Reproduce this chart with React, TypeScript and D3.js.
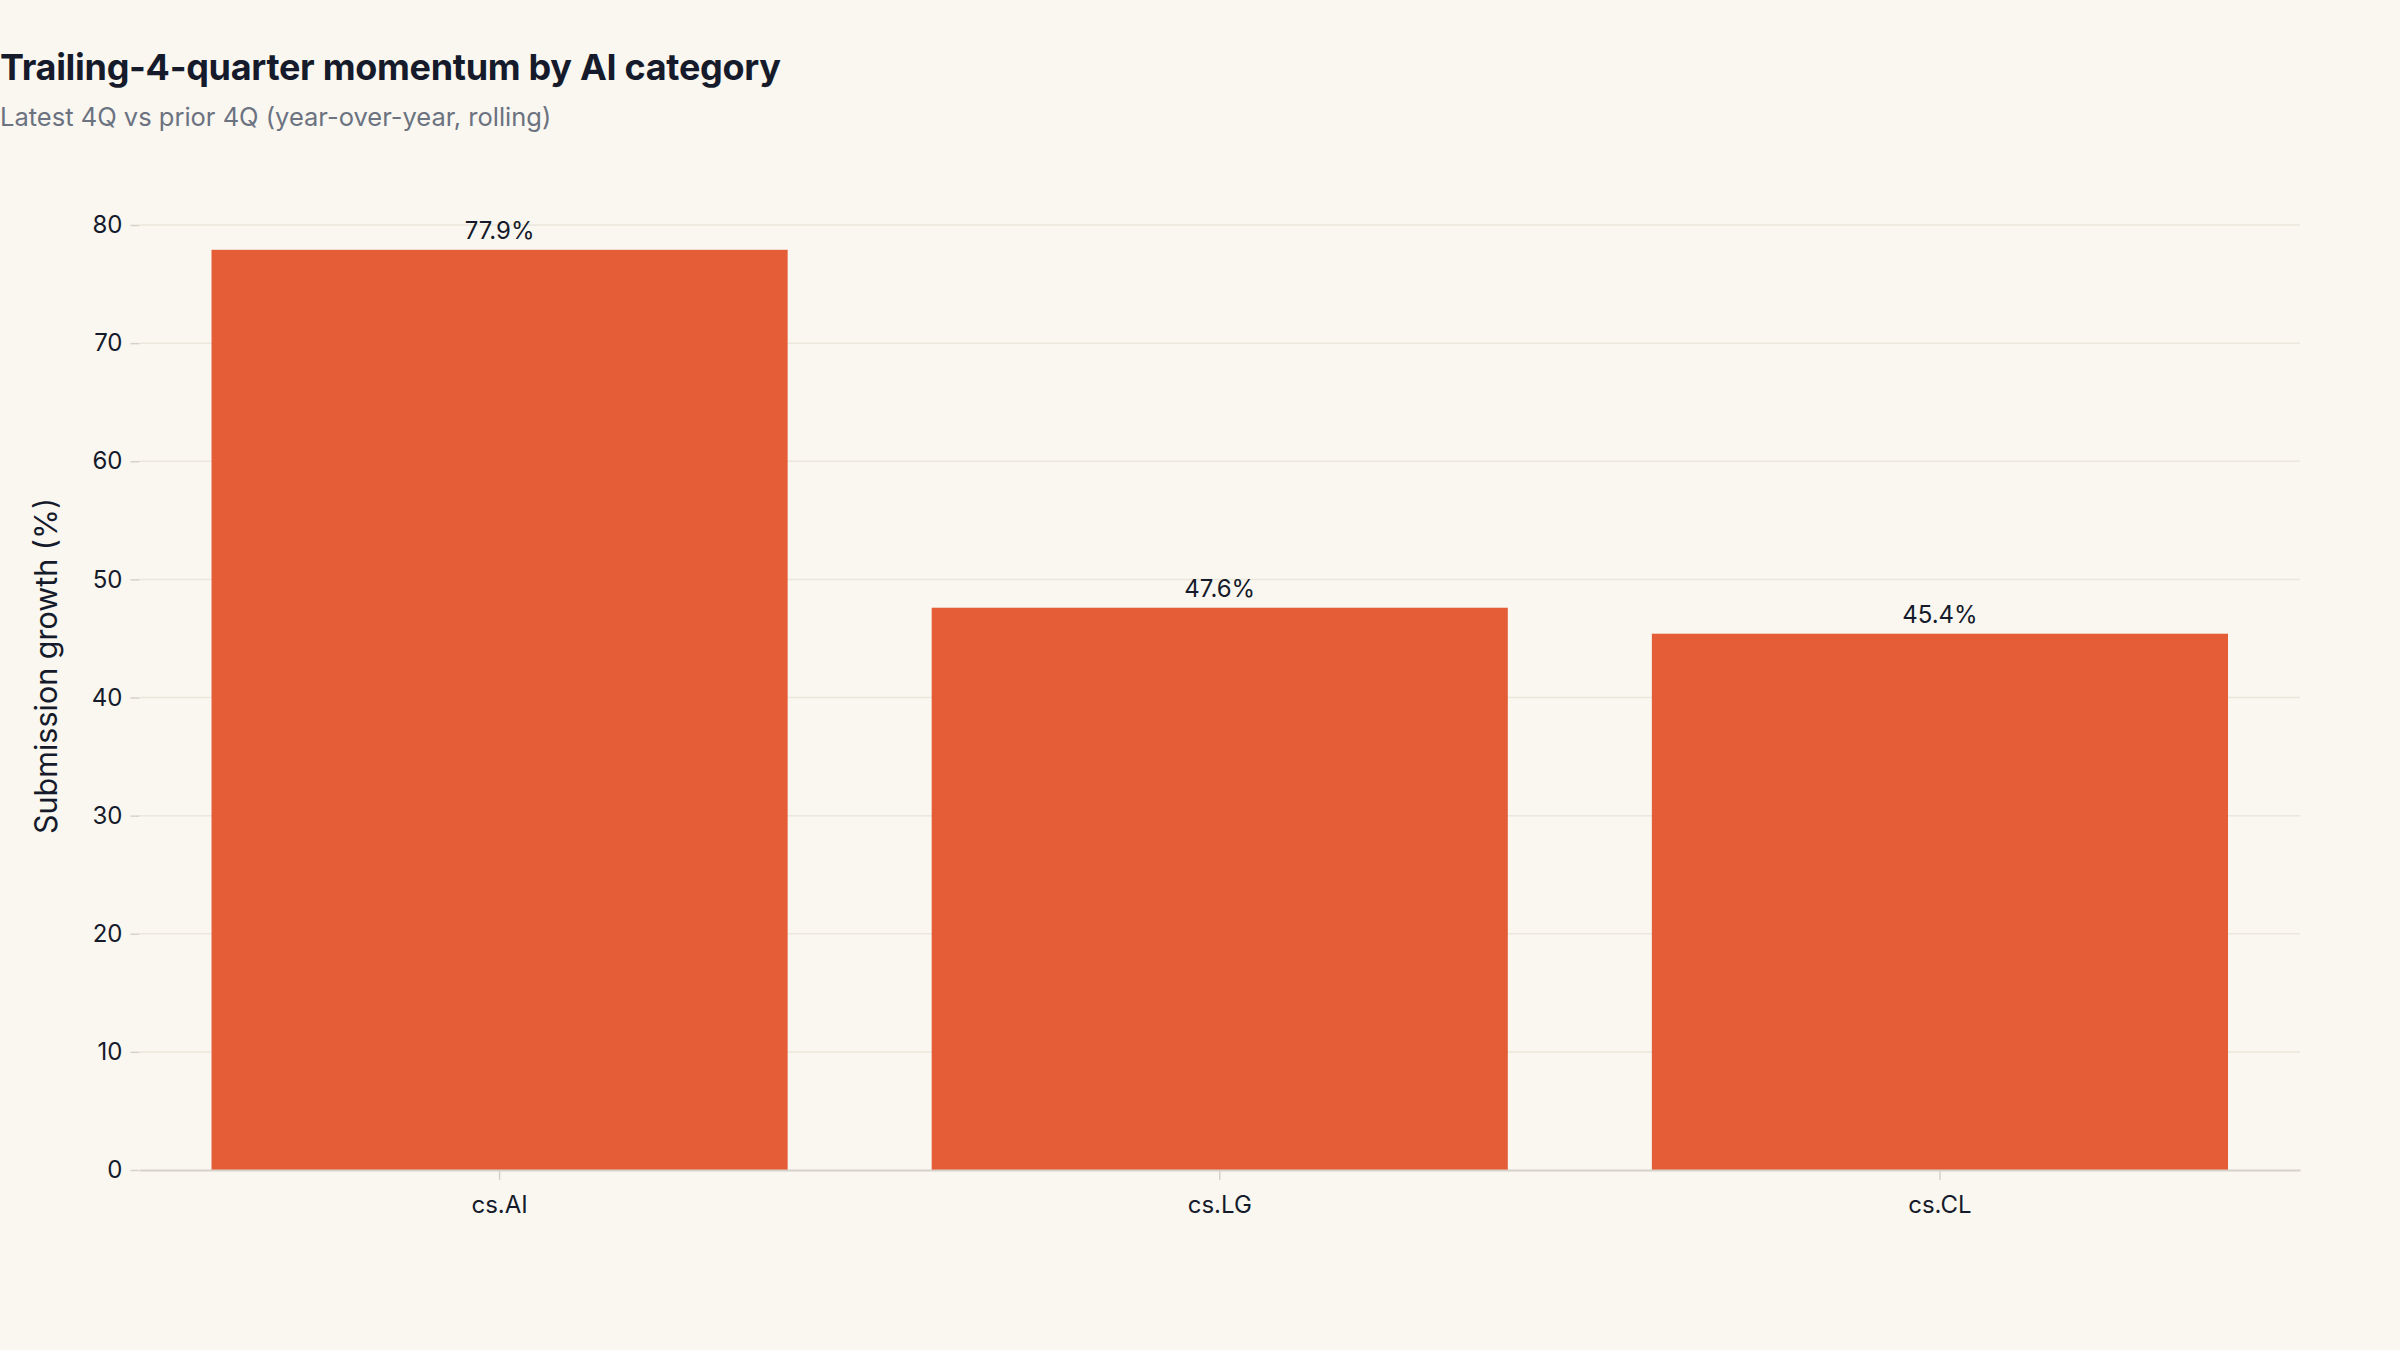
import { useEffect, useRef } from 'react';
import * as d3 from 'd3';

const categories = ['cs.AI', 'cs.LG', 'cs.CL'];
const growthValues = [77.9, 47.6, 45.4];
const yTicks = [0, 10, 20, 30, 40, 50, 60, 70, 80];

const title = 'Trailing-4-quarter momentum by AI category';
const subtitle = 'Latest 4Q vs prior 4Q (year-over-year, rolling)';
const yLabel = 'Submission growth (%)';

const FONT = "Inter, 'Noto Sans', sans-serif";

export default function App() {
  const svgRef = useRef<SVGSVGElement>(null);
  const width = 2400;
  const height = 1350;

  useEffect(() => {
    if (!svgRef.current) return;
    const svg = d3.select(svgRef.current);
    svg.selectAll('*').remove();

    const margin = { top: 225, right: 100, bottom: 180, left: 139.5 };
    const chartWidth = width - margin.left - margin.right;
    const chartHeight = height - margin.top - margin.bottom;

    svg
      .append('rect')
      .attr('width', width)
      .attr('height', height)
      .attr('fill', '#faf7f0');

    svg
      .append('text')
      .attr('x', 0)
      .attr('y', 80)
      .attr('fill', '#151b2b')
      .attr('font-size', 36)
      .attr('font-weight', 700)
      .attr('font-family', FONT)
      .attr('letter-spacing', -0.3)
      .text(title);

    svg
      .append('text')
      .attr('x', 0)
      .attr('y', 126)
      .attr('fill', '#6b7280')
      .attr('font-size', 25.5)
      .attr('font-family', FONT)
      .text(subtitle);

    const chart = svg
      .append('g')
      .attr('transform', `translate(${margin.left},${margin.top})`);

    const x = d3
      .scaleBand<string>()
      .domain(categories)
      .range([0, chartWidth])
      .paddingInner(0.2)
      .paddingOuter(0.1);

    const y = d3.scaleLinear().domain([0, 80]).range([chartHeight, 0]);

    // gridlines
    chart
      .append('g')
      .selectAll('line')
      .data(yTicks.filter((t) => t !== 0))
      .join('line')
      .attr('x1', 0)
      .attr('x2', chartWidth)
      .attr('y1', (t) => y(t))
      .attr('y2', (t) => y(t))
      .attr('stroke', '#ece7dc')
      .attr('stroke-width', 1.5);

    chart
      .append('g')
      .call(d3.axisLeft(y).tickValues(yTicks).tickSize(9).tickPadding(8))
      .call((group) => {
        group.select('.domain').remove();
        group.selectAll('.tick line').attr('stroke', '#d6d2c9').attr('stroke-width', 1.5);
        group
          .selectAll('.tick text')
          .attr('fill', '#151b2b')
          .attr('font-size', 24)
          .attr('font-family', FONT);
      });

    chart
      .append('g')
      .selectAll('rect')
      .data(categories)
      .join('rect')
      .attr('x', (c) => x(c) ?? 0)
      .attr('width', x.bandwidth())
      .attr('y', (_, i) => y(growthValues[i]))
      .attr('height', (_, i) => chartHeight - y(growthValues[i]))
      .attr('fill', '#e55d36');

    chart
      .append('g')
      .selectAll('text')
      .data(categories)
      .join('text')
      .attr('x', (c) => (x(c) ?? 0) + x.bandwidth() / 2)
      .attr('y', (_, i) => y(growthValues[i]) - 11)
      .attr('text-anchor', 'middle')
      .attr('fill', '#151b2b')
      .attr('font-size', 24)
      .attr('font-family', FONT)
      .text((_, i) => `${growthValues[i].toFixed(1)}%`);

    chart
      .append('g')
      .attr('transform', `translate(0,${chartHeight})`)
      .call(d3.axisBottom(x).tickSize(10).tickPadding(16).tickSizeOuter(0))
      .call((group) => {
        group.select('.domain').attr('stroke', '#d6d2c9').attr('stroke-width', 2);
        group.selectAll('.tick line').attr('stroke', '#d6d2c9').attr('stroke-width', 1.5);
        group
          .selectAll('.tick text')
          .attr('fill', '#151b2b')
          .attr('font-size', 24)
          .attr('font-family', FONT);
      });

    svg
      .append('text')
      .attr('transform', `translate(57,666) rotate(-90)`)
      .attr('text-anchor', 'middle')
      .attr('fill', '#151b2b')
      .attr('font-size', 30.5)
      .attr('font-family', FONT)
      .text(yLabel);
  }, []);

  return (
    <svg
      ref={svgRef}
      width={width}
      height={height}
      viewBox={`0 0 ${width} ${height}`}
      style={{ position: 'fixed', top: 0, left: 0, display: 'block' }}
    />
  );
}
